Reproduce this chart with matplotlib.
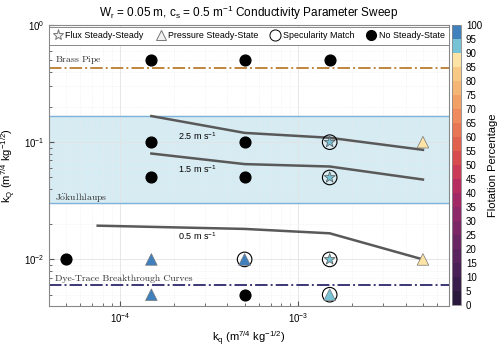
import numpy as np
import matplotlib
matplotlib.use("Agg")
import matplotlib.pyplot as plt
from matplotlib.colors import ListedColormap, BoundaryNorm
from matplotlib.lines import Line2D

plt.rcParams['font.family'] = ['Liberation Sans', 'DejaVu Sans']
plt.rcParams['mathtext.fontset'] = 'custom'
plt.rcParams['mathtext.rm'] = 'Liberation Sans'
plt.rcParams['mathtext.it'] = 'Liberation Sans:italic'

# datos: puntos sin estado estacionario
no_ss_x = [1.5e-4, 5e-4, 1.5e-3, 1.5e-4, 5e-4, 1.5e-4, 5e-4, 5e-5, 5e-4]
no_ss_y = [0.5, 0.5, 0.5, 0.1, 0.1, 0.05, 0.05, 0.01, 0.005]

# estado estacionario de presion (triangulos) con porcentaje de flotacion
press_x = [1.5e-4, 5e-4, 1.5e-4, 1.5e-3, 5e-3, 5e-3]
press_y = [0.01, 0.01, 0.005, 0.005, 0.1, 0.01]
press_f = [97.5, 97.5, 97.5, 92.5, 87.5, 87.5]

# estado estacionario de flujo (estrellas)
flux_x = [1.5e-3, 1.5e-3, 1.5e-3]
flux_y = [0.1, 0.05, 0.01]
flux_f = [92.5, 92.5, 92.5]

# coincidencia de especularidad (circulos abiertos)
spec_x = [5e-4, 1.5e-3, 1.5e-3, 1.5e-3, 1.5e-3]
spec_y = [0.01, 0.1, 0.05, 0.01, 0.005]

# curvas de velocidad
v25_x = [1.5e-4, 5e-4, 1.5e-3, 5e-3]
v25_y = [0.167, 0.12, 0.109, 0.086]
v15_x = [1.5e-4, 5e-4, 1.5e-3, 5e-3]
v15_y = [0.080, 0.065, 0.062, 0.048]
v05_x = [7.5e-5, 5e-4, 1.5e-3, 5e-3]
v05_y = [0.0194, 0.0182, 0.0167, 0.0100]

brass_y = 0.43
dye_y = 0.006
jok_band = [0.03, 0.167]

# mapa de colores discreto (0 a 100, pasos de 5)
cols = ['#2b1a3d', '#3a1e4c', '#4a2257', '#5a255f', '#6a2764', '#7c2867',
        '#8f2868', '#a32966', '#b82d60', '#cb3a57', '#d84c50', '#e1604e',
        '#e87553', '#ee8a5b', '#f2a066', '#f5b574', '#f8c985', '#fde3a5',
        '#77c2d5', '#3f80bd']
cmap = ListedColormap(cols)
norm = BoundaryNorm(np.arange(0, 105, 5), cmap.N)

fig = plt.figure(figsize=(5, 3.51), dpi=100)
ax = fig.add_axes([0.098, 0.128, 0.8, 0.801])
cax = fig.add_axes([0.904, 0.131, 0.018, 0.798])

ax.set_xscale('log')
ax.set_yscale('log')
ax.set_xlim(4e-5, 7e-3)
ax.set_ylim(4e-3, 1)

ax.axhspan(jok_band[0], jok_band[1], color='#d7ebf2', zorder=0)
ax.axhline(jok_band[0], color='#7fb3da', lw=1, zorder=1)
ax.axhline(jok_band[1], color='#7fb3da', lw=1, zorder=1)
ax.axhline(brass_y, color='#c0853f', lw=1.4, ls='-.', zorder=2)
ax.axhline(dye_y, color='#3b3777', lw=1.4, ls='-.', zorder=2)

for xs, ys in [(v25_x, v25_y), (v15_x, v15_y), (v05_x, v05_y)]:
    ax.plot(xs, ys, color='#595959', lw=1.8, zorder=3)

ax.text(2.7e-4, 0.113, r'2.5 m s$^{-1}$', fontsize=6.5, ha='center', va='center')
ax.text(2.7e-4, 0.059, r'1.5 m s$^{-1}$', fontsize=6.5, ha='center', va='center')
ax.text(2.7e-4, 0.0157, r'0.5 m s$^{-1}$', fontsize=6.5, ha='center', va='center')

ax.text(4.3e-5, 0.5, r'$\mathrm{Brass\ Pipe}$', fontsize=7, va='center', math_fontfamily='cm', color='#333333')
ax.text(4.3e-5, 0.034, r'$\mathrm{J\ddot{o}kulhlaups}$', fontsize=7, va='center', math_fontfamily='cm', color='#333333')
ax.text(4.3e-5, 0.0068, 'Dye-Trace Breakthrough Curves', fontsize=7, va='center',
        family=['cmr10', 'DejaVu Serif'], color='#333333')

ax.scatter(no_ss_x, no_ss_y, s=60, c='k', zorder=4)
ax.scatter(spec_x, spec_y, s=110, facecolors='none', edgecolors='k', lw=0.8, zorder=4)
ax.scatter(press_x, press_y, s=70, marker='^', c=press_f, cmap=cmap, norm=norm,
           edgecolors='#777777', lw=0.5, zorder=5)
ax.scatter(flux_x, flux_y, s=70, marker='*', c=flux_f, cmap=cmap, norm=norm,
           edgecolors='#555555', lw=0.5, zorder=5)

ax.grid(True, which='major', color='#e3e3e3', lw=0.6)
ax.grid(True, which='minor', color='#ececec', lw=0.5, ls=':')
ax.set_axisbelow(True)
ax.tick_params(which='both', direction='in', labelsize=7, color='#555555')
for sp in ax.spines.values():
    sp.set_color('#888888')

ax.set_xlabel(r'k$_\mathrm{q}$ (m$^{7/4}$ kg$^{-1/2}$)', fontsize=8)
ax.set_ylabel(r'k$_\mathrm{Q}$ (m$^{7/4}$ kg$^{-1/2}$)', fontsize=8)
ax.set_title(r'W$_\mathrm{r}$ = 0.05 m, c$_\mathrm{s}$ = 0.5 m$^{-1}$ Conductivity Parameter Sweep',
             fontsize=8.5, pad=6)

handles = [
    Line2D([], [], ls='none', marker='*', ms=8, mfc='#f2f2f2', mec='#777777', mew=0.7),
    Line2D([], [], ls='none', marker='^', ms=7, mfc='#f2f2f2', mec='#777777', mew=0.7),
    Line2D([], [], ls='none', marker='o', ms=8, mfc='white', mec='k', mew=0.7),
    Line2D([], [], ls='none', marker='o', ms=7, mfc='k', mec='k'),
]
labels = ['Flux Steady-Steady', 'Pressure Steady-State', 'Specularity Match', 'No Steady-State']
leg = ax.legend(handles, labels, loc='upper left', bbox_to_anchor=(0, 0.922, 1, 0.071),
                mode='expand', ncol=4, fontsize=6.4, borderaxespad=0, fancybox=False,
                handletextpad=0.35, columnspacing=1.6, handlelength=1.0, borderpad=0.5)
leg.get_frame().set_edgecolor('#888888')
leg.get_frame().set_linewidth(0.7)
leg.get_frame().set_alpha(1)

sm = plt.cm.ScalarMappable(cmap=cmap, norm=norm)
cb = fig.colorbar(sm, cax=cax, ticks=np.arange(0, 105, 5))
cb.ax.tick_params(labelsize=7, length=0)
cb.outline.set_edgecolor('#888888')
cb.outline.set_linewidth(0.6)
cb.set_label('Flotation Percentage', fontsize=8, labelpad=4)

fig.savefig('out.png', dpi=100)
